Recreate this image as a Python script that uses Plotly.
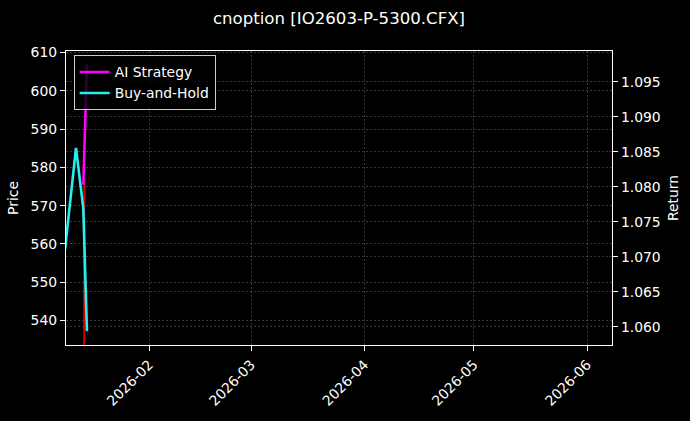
import plotly.graph_objects as go

# ---- data ----
bh_dates = ["2026-01-09", "2026-01-12", "2026-01-14", "2026-01-15"]
bh_values = [558.6, 585.1, 569.3, 537.2]

ai_dates = ["2026-01-14", "2026-01-15"]
ai_values = [575.5, 606.9]

red_dates = ["2026-01-14 06:00", "2026-01-14 06:00"]
red_values = [577.5, 480.0]

month_ticks = ["2026-02-01", "2026-03-01", "2026-04-01", "2026-05-01", "2026-06-01"]
month_labels = ["2026-02", "2026-03", "2026-04", "2026-05", "2026-06"]

price_ticks = [540, 550, 560, 570, 580, 590, 600, 610]
return_ticks = [1.060, 1.065, 1.070, 1.075, 1.080, 1.085, 1.090, 1.095]

FONT = "DejaVu Sans"
FS = 13.9
grid = "rgba(255,255,255,0.22)"
gdash = "2px,2px"

fig = go.Figure()
fig.add_trace(go.Scatter(x=red_dates, y=red_values, mode="lines",
                         line=dict(color="#d40000", width=2), showlegend=False,
                         hoverinfo="skip"))
fig.add_trace(go.Scatter(x=ai_dates, y=ai_values, mode="lines", name="AI Strategy",
                         line=dict(color="#ff00ff", width=2.6)))
fig.add_trace(go.Scatter(x=bh_dates, y=bh_values, mode="lines", name="Buy-and-Hold",
                         line=dict(color="#22f0f0", width=2.6)))
# invisible trace to activate the right axis
fig.add_trace(go.Scatter(x=[None], y=[None], yaxis="y2", showlegend=False))

fig.update_layout(
    width=690, height=421,
    paper_bgcolor="black", plot_bgcolor="black",
    margin=dict(l=66, r=78, t=51, b=69),
    font=dict(family=FONT, color="white", size=FS),
    title=dict(text="cnoption [IO2603-P-5300.CFX]", x=339/690, xanchor="center",
               y=1 - 18/421, yanchor="middle", font=dict(size=16.6, color="white")),
    showlegend=True,
    legend=dict(x=0.014, y=0.985, xanchor="left", yanchor="top",
                bgcolor="rgba(0,0,0,0.8)", bordercolor="#cccccc", borderwidth=1,
                font=dict(size=FS, color="white"), tracegroupgap=1),
    xaxis=dict(type="date", range=["2026-01-09 06:15", "2026-06-07 20:00"],
               tickvals=month_ticks, ticktext=month_labels, tickangle=-45,
               showgrid=True, gridcolor=grid, griddash=gdash, gridwidth=0.7,
               showline=True, linecolor="white", linewidth=1.2, mirror=True,
               ticks="outside", tickcolor="white", ticklen=5,
               tickfont=dict(size=FS), zeroline=False),
    yaxis=dict(title=dict(text="Price", font=dict(size=FS), standoff=8),
               range=[533.6, 610.4], tickvals=price_ticks,
               showgrid=True, gridcolor=grid, griddash=gdash, gridwidth=0.7,
               showline=True, linecolor="white", linewidth=1.2, mirror=True,
               ticks="outside", tickcolor="white", ticklen=5,
               tickfont=dict(size=FS), zeroline=False),
    yaxis2=dict(title=dict(text="Return", font=dict(size=FS), standoff=8),
                overlaying="y", side="right", range=[1.0574, 1.0994],
                tickvals=return_ticks, tickformat=".3f",
                showgrid=True, gridcolor=grid, griddash=gdash, gridwidth=0.7,
                showline=True, linecolor="white", linewidth=1.2,
                ticks="outside", tickcolor="white", ticklen=5,
                tickfont=dict(size=FS), zeroline=False),
)

fig.write_html("out.html", config={"displayModeBar": False},
               post_script="document.body.style.margin='0';document.body.style.background='black';")
